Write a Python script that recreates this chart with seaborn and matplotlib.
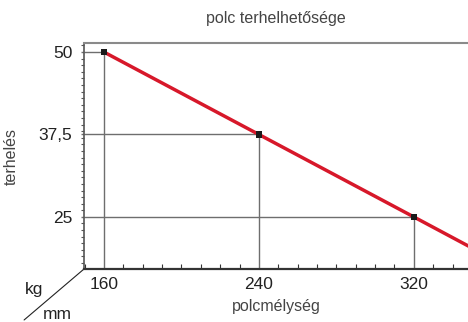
import matplotlib
matplotlib.use("Agg")
import matplotlib.pyplot as plt
import seaborn as sns
import pandas as pd
from matplotlib.ticker import MultipleLocator, FixedLocator

# shelf depth (mm) vs. allowed load (kg)
depth = [160, 240, 320, 350]
load = [50, 37.5, 25, 20.3]
marked_depth = [160, 240, 320]
marked_load = [50, 37.5, 25]

x_ticks = [160, 240, 320]
y_ticks = [25, 37.5, 50]
y_tick_labels = ["25", "37,5", "50"]

title = "polc terhelhetősége"
x_label = "polcmélység"
y_label = "terhelés"

sns.set_style("white")
plt.rcParams['font.family'] = ['Liberation Sans', 'DejaVu Sans']

df = pd.DataFrame({"depth": depth, "load": load})
pts = pd.DataFrame({"depth": marked_depth, "load": marked_load})

fig = plt.figure(figsize=(4.68, 3.22), dpi=100)
ax = fig.add_axes([0.1795, 0.1646, 0.8205, 0.7004])

xmin, xmax = 149.7, 348
ymin, ymax = 17.1, 51.3

# drop lines to the axes
grey = "#6e6e6e"
ax.vlines(marked_depth, ymin, marked_load, color=grey, lw=1.0, zorder=1)
ax.hlines(marked_load, xmin, marked_depth, color=grey, lw=1.0, zorder=1)

sns.lineplot(data=df, x="depth", y="load", ax=ax, color="#d7182a", lw=2.5, zorder=3)
sns.scatterplot(data=pts, x="depth", y="load", ax=ax, marker="s", s=22,
                color="#1a1a1a", edgecolor="none", zorder=4)

ax.set_xlim(xmin, xmax)
ax.set_ylim(ymin, ymax)

ax.xaxis.set_major_locator(FixedLocator(x_ticks))
ax.xaxis.set_minor_locator(MultipleLocator(10))
ax.yaxis.set_major_locator(FixedLocator(y_ticks))
ax.set_yticklabels(y_tick_labels)
ax.yaxis.set_minor_locator(MultipleLocator(1))

ax.tick_params(axis="x", which="both", bottom=True)
ax.tick_params(axis="y", which="both", left=True)
ax.tick_params(axis="x", which="major", direction="in", length=0, pad=6,
               labelsize=12.5, labelcolor="#222222")
ax.tick_params(axis="x", which="minor", direction="in", length=3.5, width=0.8, color="#333333")
ax.tick_params(axis="y", which="major", direction="out", length=2.5, width=1, color=grey,
               pad=6, labelsize=12.5, labelcolor="#222222")
ax.tick_params(axis="y", which="minor", direction="out", length=2.5, width=0.8, color="#555555")

ax.spines["right"].set_visible(False)
ax.spines["top"].set_color("#8a8a8a")
ax.spines["top"].set_linewidth(1.5)
ax.spines["left"].set_color("#555555")
ax.spines["left"].set_linewidth(1.2)
ax.spines["bottom"].set_color("#333333")
ax.spines["bottom"].set_linewidth(1.6)

ax.set_title(title, fontsize=11.5, color="#444444", pad=15)
ax.set_xlabel(x_label, fontsize=11.5, color="#444444", labelpad=5)
ax.set_ylabel(y_label, fontsize=11.5, color="#444444", labelpad=14)

# unit corner
ax.plot([0, -0.156], [0, -0.226], transform=ax.transAxes, color="#222222",
        lw=0.8, clip_on=False)
ax.text(-0.130, -0.111, "kg", transform=ax.transAxes, fontsize=12.5,
        color="#222222", ha="center", va="baseline")
ax.text(-0.070, -0.222, "mm", transform=ax.transAxes, fontsize=12.5,
        color="#222222", ha="center", va="baseline")

fig.savefig("out.png", dpi=100)
